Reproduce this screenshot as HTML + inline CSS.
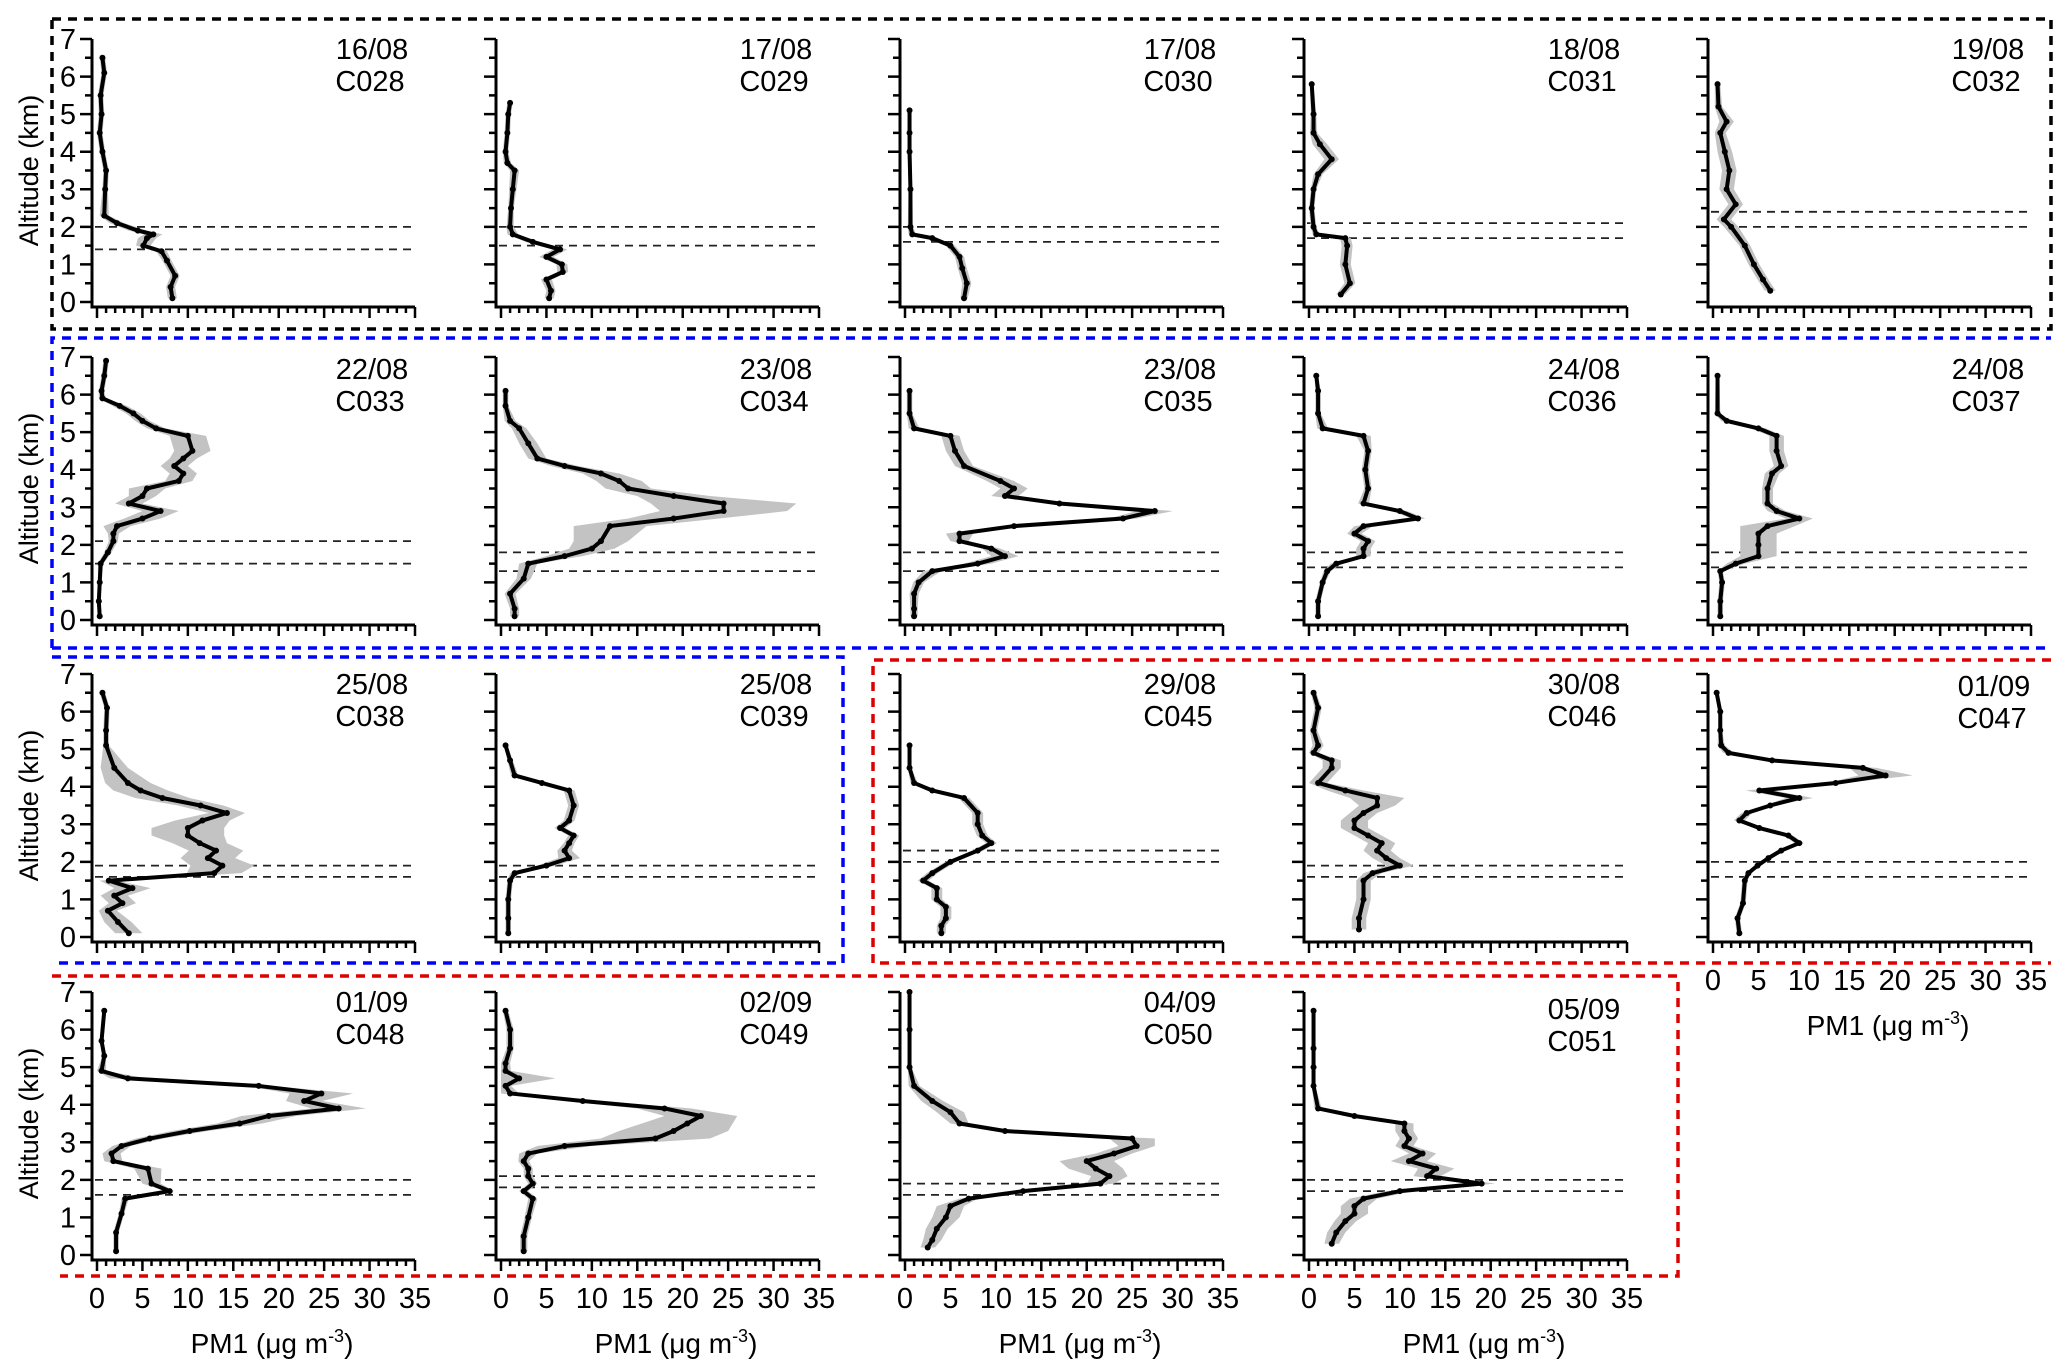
<!DOCTYPE html>
<html><head><meta charset="utf-8"><style>
html,body{margin:0;padding:0;background:#fff;}
svg{display:block;font-family:"Liberation Sans",Arial,sans-serif;}
</style></head><body>
<svg id="fig" width="2067" height="1372" viewBox="0 0 2067 1372" xmlns="http://www.w3.org/2000/svg">
<g id="boxes" fill="none" stroke-width="3.5" stroke-dasharray="9 7">
 <path stroke="#000" d="M52,19 H2051 V329 H52 Z"/>
 <path stroke="#0000ff" d="M52,648 V338 H2051 M52,648 H2051"/>
 <path stroke="#0000ff" d="M52,657 H843 V963 H55"/>
 <path stroke="#dd0000" d="M2051,660 H873 V963 H2051"/>
 <path stroke="#dd0000" d="M52,976 H1678 V1276 H60"/>
</g>
<g id="panels"></g>
</svg>
<script>
// Each panel: profile points [altitude km, PM1 value, shade half-width]
const panelNames = ["C028","C029","C030","C031","C032","C033","C034","C035","C036","C037","C038","C039","C045","C046","C047","C048","C049","C050","C051"];
const panelDates = ["16/08","17/08","17/08","18/08","19/08","22/08","23/08","23/08","24/08","24/08","25/08","25/08","29/08","30/08","01/09","01/09","02/09","04/09","05/09"];
const panelRows = [0,0,0,0,0,1,1,1,1,1,2,2,2,2,2,3,3,3,3];
const panelCols = [0,1,2,3,4,0,1,2,3,4,0,1,2,3,4,0,1,2,3];
const boundaryLayers = [[2.0,1.4],[2.0,1.5],[2.0,1.6],[2.1,1.7],[2.4,2.0],[2.1,1.5],[1.8,1.3],[1.8,1.3],[1.8,1.4],[1.8,1.4],[1.9,1.6],[1.9,1.6],[2.3,2.0],[1.9,1.6],[2.0,1.6],[2.0,1.6],[2.1,1.8],[1.9,1.6],[2.0,1.7]];
const xTickLabels = ["0","5","10","15","20","25","30","35"];
const yTickLabels = ["0","1","2","3","4","5","6","7"];

const pC028 = [[6.5,0.6,0.3],[6.1,0.8,0.3],[5.5,0.4,0.3],[5.0,0.5,0.3],[4.5,0.3,0.3],[4.0,0.6,0.3],[3.5,1.0,0.3],[3.0,0.9,0.3],[2.3,0.8,0.5],[2.1,2.2,0.8],[1.9,4.5,1.0],[1.8,6.2,1.0],[1.7,5.5,1.0],[1.5,5.1,0.8],[1.35,7.1,0.6],[1.1,7.7,0.5],[0.7,8.6,0.5],[0.4,8.1,0.5],[0.1,8.3,0.5]];
const pC029 = [[5.3,1.0,0.3],[5.0,0.8,0.3],[4.5,0.7,0.3],[4.0,0.5,0.3],[3.7,0.7,0.4],[3.5,1.5,0.5],[3.0,1.3,0.4],[2.5,1.1,0.3],[2.0,1.0,0.4],[1.8,1.3,0.6],[1.6,3.5,0.8],[1.4,6.5,0.8],[1.2,5.0,0.8],[1.0,6.7,0.6],[0.8,6.8,0.6],[0.6,5.0,0.6],[0.3,5.5,0.5],[0.1,5.3,0.5]];
const pC030 = [[5.1,0.5,0.2],[4.5,0.5,0.2],[4.0,0.5,0.2],[3.0,0.6,0.2],[2.0,0.6,0.3],[1.8,0.8,0.4],[1.7,3.0,0.5],[1.5,5.0,0.5],[1.2,6.0,0.5],[0.9,6.3,0.5],[0.5,6.8,0.5],[0.1,6.5,0.4]];
const pC031 = [[5.8,0.3,0.2],[5.0,0.5,0.3],[4.5,0.5,0.4],[4.2,1.2,0.8],[3.8,2.5,0.8],[3.4,1.0,0.5],[3.0,0.5,0.3],[2.5,0.3,0.3],[2.0,0.5,0.3],[1.8,0.8,0.4],[1.7,4.0,0.6],[1.5,4.2,0.6],[1.0,4.0,0.6],[0.5,4.5,0.6],[0.2,3.5,0.5]];
const pC032 = [[5.8,0.5,0.3],[5.2,0.6,0.4],[4.8,1.5,0.8],[4.5,0.8,0.6],[4.0,1.3,0.8],[3.5,1.8,0.8],[3.0,1.5,0.8],[2.6,2.5,0.8],[2.2,1.2,0.8],[2.0,2.0,0.8],[1.5,3.5,0.6],[1.0,4.5,0.6],[0.6,5.5,0.6],[0.3,6.3,0.6]];
const pC033 = [[6.9,1.0,0.3],[6.5,0.8,0.3],[6.1,0.5,0.3],[5.9,0.6,0.4],[5.7,2.5,0.8],[5.5,4.0,0.8],[5.3,5.0,0.8],[5.1,6.5,1.0],[4.9,10.0,2.0],[4.5,10.5,2.0],[4.3,9.5,1.5],[4.1,8.5,1.5],[3.9,9.5,1.5],[3.7,9.0,1.5],[3.5,5.5,2.0],[3.3,5.0,1.5],[3.1,3.5,1.5],[2.9,7.0,2.0],[2.7,5.0,2.0],[2.5,2.2,1.5],[2.3,1.8,0.6],[2.1,1.8,0.5],[1.8,1.2,0.4],[1.5,0.4,0.3],[1.0,0.3,0.2],[0.5,0.2,0.2],[0.1,0.3,0.2]];
const pC034 = [[6.1,0.5,0.3],[5.7,0.5,0.3],[5.3,1.0,0.6],[5.1,2.0,0.8],[4.7,3.0,1.0],[4.3,4.0,1.0],[4.1,7.0,1.5],[3.9,11.0,2.0],[3.7,13.0,2.5],[3.5,14.0,2.5],[3.3,19.0,4.0],[3.1,24.5,8.0],[2.9,24.5,7.0],[2.7,19.0,5.0],[2.5,12.0,4.0],[2.1,11.0,3.0],[1.9,10.0,2.5],[1.7,7.0,2.0],[1.5,3.0,1.0],[1.1,2.5,0.8],[0.7,1.0,0.6],[0.3,1.5,0.5],[0.1,1.5,0.5]];
const pC035 = [[6.1,0.5,0.3],[5.5,0.5,0.3],[5.1,1.0,0.6],[4.9,5.0,1.0],[4.5,5.5,1.0],[4.1,6.5,1.0],[3.7,10.5,1.5],[3.5,12.0,1.5],[3.3,11.0,1.5],[3.1,17.0,1.5],[2.9,27.5,2.0],[2.7,24.0,1.5],[2.5,12.0,1.5],[2.3,6.0,1.5],[2.1,6.0,1.0],[1.9,9.5,1.0],[1.7,11.0,1.5],[1.5,8.0,1.5],[1.3,3.0,1.0],[1.0,1.5,0.6],[0.7,1.0,0.5],[0.3,1.0,0.4],[0.1,1.0,0.4]];
const pC036 = [[6.5,0.8,0.2],[6.1,1.0,0.3],[5.5,1.0,0.3],[5.1,1.5,0.6],[4.9,6.0,0.8],[4.5,6.5,0.4],[4.0,6.2,0.4],[3.5,6.5,0.4],[3.1,6.0,0.6],[2.9,10.0,0.8],[2.7,12.0,0.8],[2.5,6.0,1.0],[2.3,5.0,0.8],[2.1,6.5,0.8],[1.9,6.0,0.8],[1.7,6.0,0.8],[1.5,3.0,0.6],[1.3,2.0,0.4],[1.0,1.5,0.3],[0.5,1.0,0.3],[0.1,1.0,0.3]];
const pC037 = [[6.5,0.5,0.2],[5.5,0.5,0.3],[5.3,1.5,0.6],[5.1,5.0,0.8],[4.9,7.0,0.8],[4.5,7.0,0.8],[4.1,7.5,0.8],[3.9,6.5,0.8],[3.5,6.0,0.6],[3.1,6.0,0.6],[2.9,7.0,1.0],[2.7,9.5,1.5],[2.5,6.0,3.0],[2.3,5.0,2.0],[2.0,5.0,2.0],[1.7,5.0,2.0],[1.5,2.5,1.0],[1.3,0.8,0.3],[1.0,1.0,0.3],[0.5,0.8,0.3],[0.1,0.8,0.3]];
const pC038 = [[6.5,0.6,0.3],[6.1,1.1,0.3],[5.5,1.0,0.3],[5.1,1.0,0.3],[4.5,1.9,1.5],[4.1,3.4,2.5],[3.9,4.8,3.0],[3.7,7.2,3.0],[3.5,11.4,2.5],[3.3,14.3,2.0],[3.1,11.6,3.0],[2.9,10.0,4.0],[2.7,10.0,4.0],[2.5,11.3,3.0],[2.3,13.1,3.0],[2.1,12.2,3.0],[1.9,13.8,3.5],[1.7,12.9,3.0],[1.5,1.3,1.0],[1.3,3.9,2.0],[1.1,1.9,1.5],[0.9,2.8,1.5],[0.7,1.2,1.0],[0.4,2.3,1.5],[0.1,3.5,1.5]];
const pC039 = [[5.1,0.5,0.2],[4.7,1.0,0.3],[4.3,1.5,0.4],[4.1,4.5,0.6],[3.9,7.5,0.6],[3.5,8.0,0.6],[3.1,7.5,0.6],[2.9,6.5,0.6],[2.7,8.0,0.6],[2.5,7.5,0.6],[2.3,7.0,0.8],[2.1,7.5,1.2],[1.9,5.0,1.0],[1.7,1.5,0.5],[1.5,1.0,0.3],[1.0,0.8,0.3],[0.5,0.8,0.3],[0.1,0.8,0.3]];
const pC045 = [[5.1,0.5,0.2],[4.5,0.5,0.2],[4.1,1.0,0.4],[3.9,3.0,0.6],[3.7,6.5,0.6],[3.3,8.0,0.6],[3.0,8.0,0.6],[2.7,8.5,0.6],[2.5,9.5,0.6],[2.3,8.0,0.6],[2.0,5.0,0.6],[1.7,3.0,0.6],[1.5,2.0,0.6],[1.3,3.5,0.6],[1.0,3.5,0.6],[0.8,4.5,0.6],[0.5,4.5,0.6],[0.3,4.0,0.5],[0.1,4.0,0.5]];
const pC046 = [[6.5,0.5,0.3],[6.1,1.0,0.4],[5.5,0.5,0.4],[5.1,1.0,0.6],[4.9,0.5,0.6],[4.7,2.5,1.0],[4.5,2.5,1.0],[4.1,1.0,1.0],[3.9,4.0,2.0],[3.7,7.5,3.0],[3.5,7.5,2.0],[3.3,6.0,1.5],[3.1,5.0,1.5],[2.9,5.0,1.5],[2.7,6.5,1.5],[2.5,8.0,1.5],[2.3,7.5,1.5],[2.1,8.5,1.5],[1.9,10.0,1.5],[1.7,7.0,1.0],[1.5,6.0,0.8],[1.0,6.0,0.8],[0.5,5.5,0.8],[0.2,5.5,0.8]];
const pC047 = [[6.5,0.4,0.2],[6.0,0.8,0.2],[5.5,0.8,0.2],[5.1,0.9,0.4],[4.9,1.7,0.6],[4.7,6.5,0.6],[4.5,16.5,1.5],[4.3,19.0,3.0],[4.1,13.5,1.0],[3.9,5.1,1.5],[3.7,9.5,1.5],[3.5,6.3,0.6],[3.3,3.7,0.6],[3.1,2.9,0.6],[2.9,5.1,0.5],[2.7,8.3,0.5],[2.5,9.5,0.5],[2.3,7.5,0.5],[2.1,6.1,0.4],[1.9,4.9,0.4],[1.7,3.9,0.3],[1.5,3.5,0.3],[0.9,3.3,0.3],[0.5,2.7,0.3],[0.1,2.9,0.3]];
const pC048 = [[6.5,0.8,0.2],[5.7,0.5,0.2],[5.3,0.8,0.2],[4.9,0.5,0.5],[4.7,3.4,2.0],[4.5,17.8,1.5],[4.3,24.7,3.5],[4.1,22.8,2.0],[3.9,26.6,3.0],[3.7,18.9,3.0],[3.5,15.7,2.5],[3.3,10.2,2.0],[3.1,5.8,1.5],[2.9,2.7,1.0],[2.7,1.6,1.0],[2.5,1.8,1.0],[2.3,5.6,1.5],[1.9,6.0,1.0],[1.7,8.0,0.5],[1.5,3.1,0.4],[1.1,2.7,0.3],[0.6,2.1,0.3],[0.1,2.1,0.3]];
const pC049 = [[6.5,0.5,0.3],[6.0,1.0,0.4],[5.5,1.0,0.4],[5.1,0.5,0.5],[4.9,0.5,0.6],[4.7,2.0,4.0],[4.5,0.5,0.6],[4.3,1.0,1.0],[4.1,9.0,2.0],[3.9,18.0,3.0],[3.7,22.0,4.0],[3.5,20.5,5.0],[3.3,19.0,6.0],[3.1,17.0,6.0],[2.9,7.0,3.0],[2.7,3.0,1.0],[2.5,2.5,0.6],[2.3,3.0,0.5],[2.1,3.0,0.5],[1.9,3.5,0.5],[1.7,2.5,0.5],[1.5,3.5,0.5],[1.0,3.0,0.4],[0.5,2.5,0.4],[0.1,2.5,0.4]];
const pC050 = [[7.0,0.5,0.2],[6.0,0.5,0.2],[5.0,0.5,0.2],[4.5,1.0,0.6],[4.1,3.0,1.2],[3.8,5.0,1.5],[3.5,6.0,1.0],[3.3,11.0,0.8],[3.1,25.0,2.5],[2.9,25.5,2.0],[2.7,23.0,2.0],[2.5,20.0,3.0],[2.3,21.0,3.0],[2.1,22.5,2.0],[1.9,21.5,1.5],[1.7,13.0,1.0],[1.5,7.0,1.0],[1.3,5.0,1.5],[1.0,4.5,1.5],[0.7,3.5,1.2],[0.4,3.0,1.0],[0.2,2.5,0.8]];
const pC051 = [[6.5,0.5,0.2],[5.5,0.5,0.2],[5.0,0.5,0.2],[4.5,0.5,0.2],[3.9,1.0,0.4],[3.7,5.0,0.8],[3.5,10.5,1.0],[3.3,10.5,1.0],[3.1,11.0,1.0],[2.9,10.5,1.0],[2.7,12.5,1.5],[2.5,11.0,2.0],[2.3,14.0,2.0],[2.1,13.0,1.5],[1.9,19.0,1.5],[1.7,10.0,1.5],[1.5,6.0,1.5],[1.3,5.0,1.5],[1.1,5.0,1.5],[0.9,4.0,1.2],[0.6,3.0,1.0],[0.3,2.5,0.8]];
const profiles = [pC028,pC029,pC030,pC031,pC032,pC033,pC034,pC035,pC036,pC037,pC038,pC039,pC045,pC046,pC047,pC048,pC049,pC050,pC051];

const NS = "http://www.w3.org/2000/svg";
const ROW_TOP = [39, 357, 674, 992];
const COL_X = [92, 496, 900, 1304, 1708];
const PLOT_H = 263, XMAX = 35, XW = 318;
function mk(tag, attrs, parent){ const e=document.createElementNS(NS,tag); for(const k in attrs) e.setAttribute(k,attrs[k]); parent.appendChild(e); return e; }
const root = document.getElementById("panels");

for (let i=0;i<profiles.length;i++){
  const r=panelRows[i], c=panelCols[i];
  const ax=COL_X[c], top=ROW_TOP[r], y0=top+PLOT_H, xl=y0+5;
  const xs = v => ax+5+v/XMAX*XW;
  const ys = a => y0 - a/7*PLOT_H;
  const g = mk("g",{},root);
  
  
  boundaryLayers[i].forEach((h,k)=>{
    const l = mk("line",{x1:ax+3,x2:ax+323,y1:ys(h),y2:ys(h),stroke:"#222","stroke-width":1.8,"stroke-dasharray":"8 6"},g);
    
    
  });
  const pts = profiles[i];
  let band = pts.map(p=>xs(Math.min(XMAX,p[1]+p[2]))+","+ys(p[0]));
  band = band.concat(pts.slice().reverse().map(p=>xs(Math.max(0,p[1]-p[2]))+","+ys(p[0])));
  const sh = mk("polygon",{points:band.join(" "),fill:"#c3c3c3",stroke:"none"},g);
  
  
  const ln = mk("polyline",{points:pts.map(p=>xs(p[1])+","+ys(p[0])).join(" "),fill:"none",stroke:"#000","stroke-width":4,"stroke-linejoin":"round"},g);
  
  
  pts.forEach(p=>{
    const d = mk("circle",{cx:xs(p[1]),cy:ys(p[0]),r:3,fill:"#000"},g);
    
    
  });
  const axes = mk("path",{d:`M${ax},${top} V${xl} H${ax+323}`,fill:"none",stroke:"#000","stroke-width":3},g);
  
  
  let td="";
  for(let k=0;k<=14;k++){ const y=ys(k/2); td+=`M${ax-(k%2?7:12)},${y} H${ax}`; }
  for(let k=0;k<=35;k++){ const x=xs(k); td+=`M${x},${xl} V${xl+(k%5?6:11)}`; }
  const ticks = mk("path",{d:td,stroke:"#000","stroke-width":2.5,fill:"none"},g);
  
  
  if(c===0){
    yTickLabels.forEach((t,k)=>{
      const tx = mk("text",{x:ax-16,y:ys(k)+10,"text-anchor":"end","font-size":29},g);
      tx.textContent=t;
      
      
    });
    const yt = mk("text",{x:0,y:0,"text-anchor":"middle","font-size":27,transform:`translate(38,${top+PLOT_H/2}) rotate(-90)`},g);
    yt.textContent="Altitude (km)";
    
    
  }
  if(r===3 || (r===2 && c===4)){
    xTickLabels.forEach((t,k)=>{
      const tx = mk("text",{x:xs(k*5),y:xl+48,"text-anchor":"middle","font-size":29},g);
      tx.textContent=t;
      
      
    });
    const xt = mk("text",{x:ax+180,y:xl+93,"text-anchor":"middle","font-size":28},g);
    xt.innerHTML='PM1 (μg m<tspan dy="-11" font-size="18">-3</tspan><tspan dy="11">)</tspan>';
    
    
  }
  const off = (i===18)?7:(r===1||i===14?2:0);
  const dx = (i===14)?6:0;
  const d1 = mk("text",{x:ax+280+dx,y:top+20+off,"text-anchor":"middle","font-size":29},g);
  d1.textContent=panelDates[i];
  
  
  const d2 = mk("text",{x:ax+278+dx,y:top+52+off,"text-anchor":"middle","font-size":29},g);
  d2.textContent=panelNames[i];
  
  
}
</script>
</body></html>
